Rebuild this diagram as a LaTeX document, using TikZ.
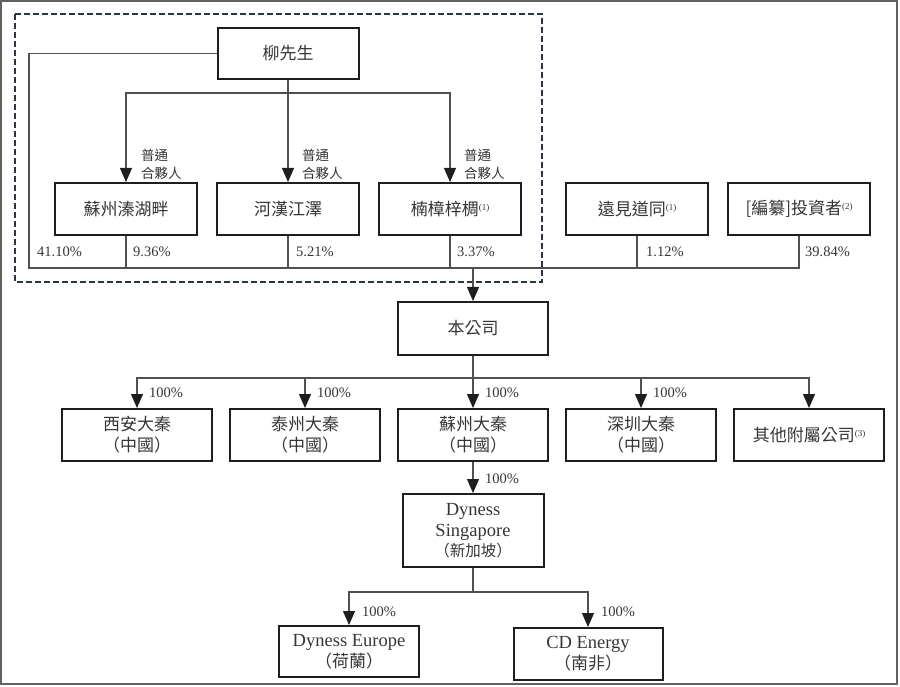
\documentclass[tikz,border=0pt]{standalone}
\usepackage{fontspec}
\setmainfont{Liberation Serif}
\newfontfamily\cjk{Noto Sans CJK TC}
\usepackage{tikz}
\usetikzlibrary{arrows.meta, positioning}
\definecolor{marco}{HTML}{1E1E1E}
\definecolor{linea}{HTML}{505050}
\definecolor{tinta}{HTML}{353535}
\definecolor{pizarra}{HTML}{2B3445}
\newcommand{\zhu}[1]{\raisebox{5pt}{\rmfamily\fontsize{9}{9}\selectfont(#1)}}
\newcommand{\lat}[1]{{\rmfamily\fontsize{18.5}{20}\selectfont #1}}

\begin{document}
\begin{tikzpicture}[x=1pt, y=-1pt,
      node distance=18pt,
      box/.style={draw=marco, line width=2pt, minimum width=142pt,
                  minimum height=52pt, inner sep=2pt, align=center,
                  text=tinta, font=\cjk\fontsize{17}{21}\selectfont},
      link/.style={draw=linea, line width=1.1pt},
      arrow/.style={link, -{Triangle[width=12pt,length=14pt,color=marco]}},
      pct/.style={anchor=west, inner sep=1pt, text=tinta,
                  font=\fontsize{14.5}{16}\selectfont},
      gp/.style={anchor=west, inner sep=1pt, align=left, text=tinta,
                 font=\cjk\fontsize{13.5}{18}\selectfont},
      grp/.style={draw=pizarra, line width=2pt, dash pattern=on 6pt off 3pt} ]
    \useasboundingbox (0,0) rectangle (900,687);
    \draw[linea!90, line width=2pt] (1,1) rectangle (897,684);
    \draw[grp] (15,14) rectangle (542,282);

    % shareholders
    \node[box, minimum width=141pt, minimum height=51pt] (liu) at (288,53.5) {柳先生};
    \node[box] (suhupan) at (126,209) {蘇州溱湖畔};
    \node[box, right=of suhupan] (hehan) {河漢江澤};
    \node[box, right=of hehan] (nanzhang) {楠樟梓椆\zhu{1}};
    \node[box] (yuanjian) at (637,209) {遠見道同\zhu{1}};
    \node[box, right=of yuanjian] (touzi) {[編纂]投資者\zhu{2}};

    % company and subsidiaries
    \node[box, minimum width=150pt, minimum height=53pt] (bengongsi) at (473,328.5) {本公司};
    \node[box, minimum width=150pt] (xian) at (137,435) {西安大秦\\（中國）};
    \node[box, minimum width=150pt, right=16pt of xian] (taizhou) {泰州大秦\\（中國）};
    \node[box, minimum width=150pt, right=16pt of taizhou] (suzhou) {蘇州大秦\\（中國）};
    \node[box, minimum width=150pt, right=16pt of suzhou] (shenzhen) {深圳大秦\\（中國）};
    \node[box, minimum width=150pt, right=16pt of shenzhen] (qita) {其他附屬公司\zhu{3}};
    \node[box, minimum width=141pt, minimum height=73pt] (sing) at (473,530.5)
          {\lat{Dyness}\\\lat{Singapore}\\[-1pt]{\fontsize{15.5}{20}\selectfont（新加坡）}};
    \node[box, minimum width=140pt, minimum height=51pt] (europe) at (349,651.5)
          {\lat{Dyness Europe}\\（荷蘭）};
    \node[box, minimum width=149pt] (cdenergy) at (588,654) {\lat{CD Energy}\\（南非）};

    \coordinate (gpbus) at (0,93);
    \coordinate (busL) at (29,268);
    \coordinate (subbus) at (0,378);
    \coordinate (singbus) at (0,592);

    % general partner
    \draw[arrow] (liu.south) -- (hehan.north);
    \draw[arrow] (liu.south |- gpbus) -| (suhupan.north);
    \draw[arrow] (liu.south |- gpbus) -| (nanzhang.north);
    \node[gp] (gp1) at (140,164) {普通\\合夥人};
    \node[gp] (gp2) at (301,164) {普通\\合夥人};
    \node[gp] (gp3) at (463,164) {普通\\合夥人};

    % shareholdings
    \draw[link] (liu.west) -| (busL) -- (touzi.south |- busL) -- (touzi.south);
    \foreach \n in {suhupan, hehan, nanzhang, yuanjian}
      \draw[link] (\n.south) -- (\n.south |- busL);
    \draw[arrow] (bengongsi.north |- busL) -- (bengongsi.north);
    \node[pct] (p1) at (36,252) {41.10\%};
    \node[pct] (p2) at (132,252) {9.36\%};
    \node[pct] (p3) at (295,252) {5.21\%};
    \node[pct] (p4) at (456,252) {3.37\%};
    \node[pct] (p5) at (645,252) {1.12\%};
    \node[pct] (p6) at (804,252) {39.84\%};

    % subsidiaries
    \draw[arrow] (bengongsi.south) -- (suzhou.north);
    \foreach \n in {xian, taizhou, shenzhen, qita}
      \draw[arrow] (bengongsi.south |- subbus) -| (\n.north);
    \foreach \n in {xian, taizhou, suzhou, shenzhen}
      \node[pct] at ([xshift=11pt]\n.north |- 0,393) {100\%};
    \draw[arrow] (suzhou.south) -- (sing.north);
    \node[pct] (p7) at (484,479) {100\%};
    \draw[link] (sing.south) -- (sing.south |- singbus);
    \draw[arrow] (sing.south |- singbus) -| (europe.north);
    \draw[arrow] (sing.south |- singbus) -| (cdenergy.north);
    \node[pct] (p8) at (361,612) {100\%};
    \node[pct] (p9) at (600,612) {100\%};
  \end{tikzpicture}
\end{document}
